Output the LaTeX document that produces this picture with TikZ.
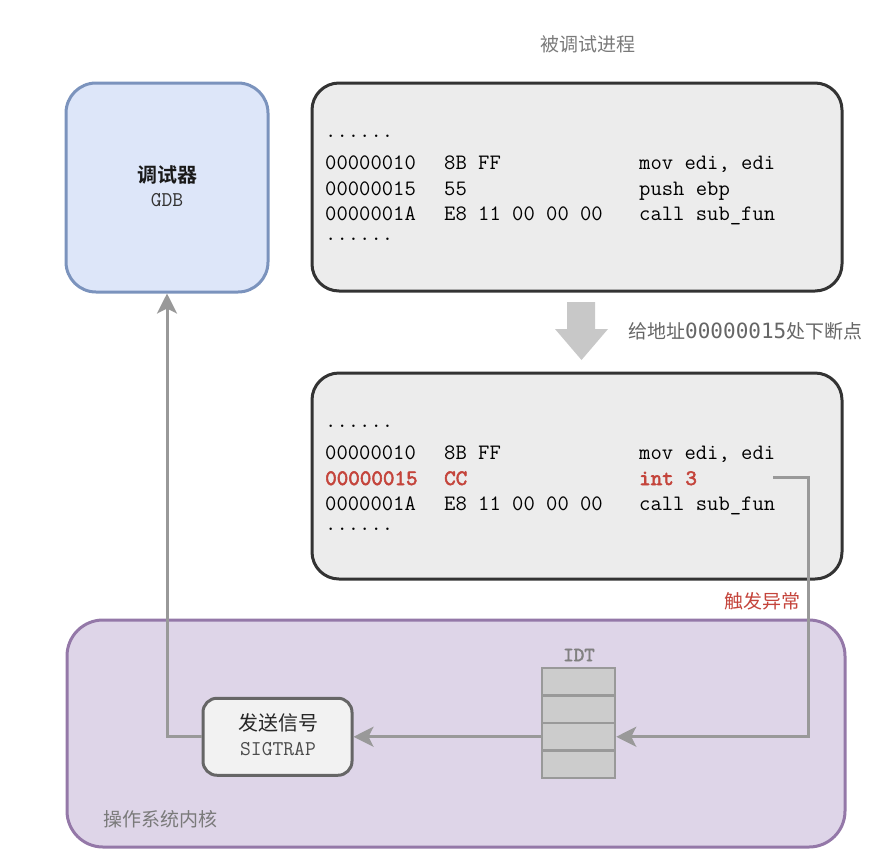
\documentclass[tikz,border=0pt]{standalone}
\usepackage{fontspec}
\setmainfont{Liberation Sans}
\newfontfamily\cjk{Noto Sans CJK SC}
\newfontfamily\cjkbold{Noto Sans CJK SC Bold}
\newcommand{\codefont}{\ttfamily}
\newfontfamily\codebold{lmmono10-regular.otf}[FakeBold=2.5]
\newfontfamily\numfont{DejaVu Sans Mono}
\usetikzlibrary{arrows.meta}

\definecolor{gdbfill}{HTML}{DDE6F9}
\definecolor{gdbline}{HTML}{7B93BD}
\definecolor{codefill}{HTML}{ECECEC}
\definecolor{codeline}{HTML}{333333}
\definecolor{kernfill}{HTML}{DED5E8}
\definecolor{kernline}{HTML}{9478A8}
\definecolor{hotred}{HTML}{C4443B}
\definecolor{wire}{HTML}{999999}
\definecolor{idtfill}{HTML}{CCCCCC}
\definecolor{sigfill}{HTML}{F2F2F2}
\definecolor{sigline}{HTML}{666666}
\definecolor{caption}{HTML}{7A7A7A}
\definecolor{blockarrow}{HTML}{C8C8C8}

\tikzset{
  panel/.style={draw, line width=3pt, inner sep=0pt},
  codetext/.style={anchor=base west, inner sep=0pt, font=\codefont\fontsize{22}{26}\selectfont, text=black},
  hottext/.style={codetext, font=\codebold\fontsize{22}{26}\selectfont, text=hotred},
  cjklabel/.style={inner sep=0pt, font=\cjk\fontsize{19}{23}\selectfont},
  wireline/.style={draw=wire, line width=3pt},
  tip/.style={-{Stealth[length=20pt,width=20pt,inset=5pt]}},
  idtcell/.style={draw=wire, fill=idtfill, line width=2.5pt, minimum width=73pt, minimum height=27.5pt, inner sep=0pt},
}

\begin{document}
\begin{tikzpicture}[x=1pt,y=-1pt]
\useasboundingbox (0,0) rectangle (894,863);

% operating system kernel
\node[panel, draw=kernline, fill=kernfill, rounded corners=36pt,
      minimum width=778pt, minimum height=227pt] (kernel) at (456,733.5) {};
\node[cjklabel, text=caption, anchor=west] (kernlabel) at (103,819) {操作系统内核};

% debugger
\node[panel, draw=gdbline, fill=gdbfill, rounded corners=30pt,
      minimum width=202pt, minimum height=209pt] (gdb) at (167,187.5) {};
\node[inner sep=0pt, font=\cjkbold\fontsize{20}{24}\selectfont, text=black!90] (gdbtitle) at (167,175) {调试器};
\node[inner sep=0pt, font=\codefont\fontsize{21}{25}\selectfont, text=black!80] (gdbname) at (167,200) {GDB};

% debugged process, original code
\node[cjklabel, text=caption] (proclabel) at (588,44) {被调试进程};
\node[panel, draw=codeline, fill=codefill, rounded corners=27pt,
      minimum width=530pt, minimum height=208pt] (codeA) at (577,187) {};
\node[codetext] (a0) at (325,137) {......};
\node[codetext] (a1addr) at (325,169) {00000010};
\node[codetext] (a1hex)  at (444,169) {8B FF};
\node[codetext] (a1asm)  at (639,169) {mov edi, edi};
\node[codetext] (a2addr) at (325,195) {00000015};
\node[codetext] (a2hex)  at (444,195) {55};
\node[codetext] (a2asm)  at (639,195) {push ebp};
\node[codetext] (a3addr) at (325,220) {0000001A};
\node[codetext] (a3hex)  at (444,220) {E8 11 00 00 00};
\node[codetext] (a3asm)  at (639,220) {call sub\_fun};
\node[codetext] (a4) at (325,240) {......};

% breakpoint step
\fill[blockarrow] (567,302) -- (595,302) -- (595,329) -- (608,329) -- (581.5,360)
  -- (555,329) -- (567,329) -- cycle;
\node[inner sep=0pt, anchor=west, text=black!60] (bplabel) at (628,331)
  {{\cjk\fontsize{19}{23}\selectfont 给地址}{\numfont\fontsize{21}{23}\selectfont 00000015}{\cjk\fontsize{19}{23}\selectfont 处下断点}};

% debugged process, patched code
\node[panel, draw=codeline, fill=codefill, rounded corners=27pt,
      minimum width=530pt, minimum height=206pt] (codeB) at (577,476) {};
\node[codetext] (b0) at (325,427) {......};
\node[codetext] (b1addr) at (325,459) {00000010};
\node[codetext] (b1hex)  at (444,459) {8B FF};
\node[codetext] (b1asm)  at (639,459) {mov edi, edi};
\node[hottext]  (b2addr) at (325,485) {00000015};
\node[hottext]  (b2hex)  at (444,485) {CC};
\node[hottext]  (b2asm)  at (639,485) {int 3};
\node[codetext] (b3addr) at (325,510) {0000001A};
\node[codetext] (b3hex)  at (444,510) {E8 11 00 00 00};
\node[codetext] (b3asm)  at (639,510) {call sub\_fun};
\node[codetext] (b4) at (325,530) {......};

\node[cjklabel, text=hotred, anchor=east] (traplabel) at (801,601) {触发异常};

% interrupt descriptor table
\node[inner sep=0pt, font=\codebold\fontsize{20}{24}\selectfont, text=black!50] (idtlabel) at (579,655) {IDT};
\node[idtcell] (idt1) at (578.5,681.75) {};
\node[idtcell] (idt2) at (578.5,709.25) {};
\node[idtcell] (idt3) at (578.5,736.75) {};
\node[idtcell] (idt4) at (578.5,764.25) {};

% signal delivery
\node[panel, draw=sigline, fill=sigfill, rounded corners=14pt,
      minimum width=149pt, minimum height=77pt] (sig) at (277.5,736.75) {};
\node[inner sep=0pt, font=\cjk\fontsize{20}{24}\selectfont, text=black!85] (sigtitle) at (278,723) {发送信号};
\node[inner sep=0pt, font=\codefont\fontsize{21}{25}\selectfont, text=black!70] (signame) at (278,749) {SIGTRAP};

% connectors
\coordinate (trapsrc) at (773,477);
\coordinate (trapbend) at (808,477);
\draw[wireline, tip] (trapsrc) -- (trapbend) |- (idt3.east);
\draw[wireline, tip] (idt3.west) -- (sig.east);
\draw[wireline, tip] (sig.west) -| (gdb.south);

\end{tikzpicture}
\end{document}
